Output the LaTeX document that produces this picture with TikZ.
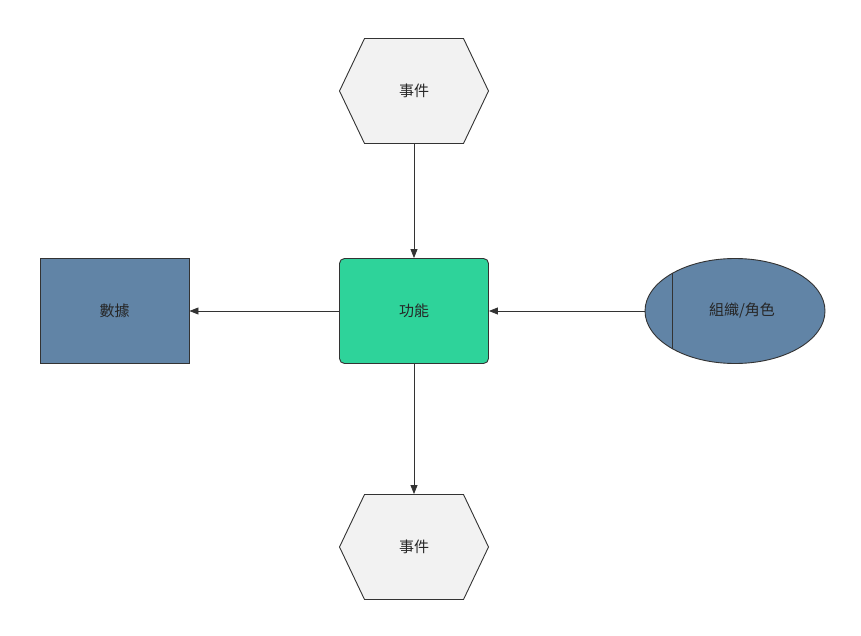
\documentclass[tikz,border=0pt]{standalone}
\usepackage{fontspec}
\newfontfamily\cjk{Noto Sans CJK TC}
\usetikzlibrary{arrows.meta,shapes.geometric}
\definecolor{hexfill}{HTML}{F2F2F2}
\definecolor{funcfill}{HTML}{2ED39A}
\definecolor{bluefill}{HTML}{6184A6}
\definecolor{edge}{HTML}{333333}
\begin{document}
\begin{tikzpicture}[x=1pt,y=-1pt,
  every node/.style={font=\cjk\fontsize{15}{18}\selectfont,text=black!85},
  box/.style={draw=edge,line width=0.9pt,minimum width=149pt,minimum height=105pt,inner sep=0pt},
  conn/.style={draw=edge,line width=0.9pt,-{Triangle[length=9pt,width=7pt]}}]
\useasboundingbox (0,0) rectangle (861,636);
\tikzset{hexa/.pic={
  \draw[draw=edge,line width=0.9pt,fill=hexfill] (-74.5,0)--(-49.5,-52.5)--(49.5,-52.5)--(74.5,0)--(49.5,52.5)--(-49.5,52.5)--cycle;}}
\pic at (414,91) {hexa};
\node[box,draw=none] (ev1) at (414,91) {事件};
\pic at (414,547) {hexa};
\node[box,draw=none] (ev2) at (414,547) {事件};
\node[box,fill=funcfill,rounded corners=5pt] (fn) at (414,311) {功能};
\node[box,fill=bluefill] (data) at (114.5,311) {數據};
\node[draw=edge,line width=0.9pt,fill=bluefill,ellipse,minimum width=180pt,minimum height=105pt,inner sep=0pt] (org) at (735,311) {};
\begin{scope}
\clip (735,311) ellipse [x radius=90, y radius=52.5];
\draw[edge,line width=0.9pt] (672,250) -- (672,372);
\end{scope}
\node at (742,311) {組織/角色};
\draw[conn] (ev1.south) -- (fn.north);
\draw[conn] (fn.west) -- (data.east);
\draw[conn] (org.west) -- (fn.east);
\draw[conn] (fn.south) -- (ev2.north);
\end{tikzpicture}
\end{document}
